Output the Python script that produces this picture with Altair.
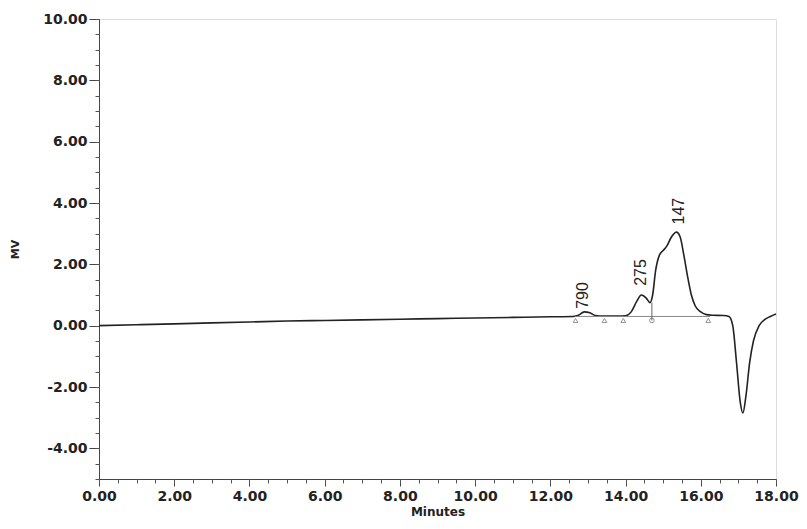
import altair as alt
import pandas as pd

# chromatogram trace (minutes, mV)
times = [0.0, 1.0, 2.0, 3.0, 4.0, 5.0, 6.0, 7.0, 8.0, 9.0, 10.0, 11.0, 12.0, 12.6,
         12.75, 12.9, 13.05, 13.2, 13.4, 13.8, 14.0, 14.15, 14.3, 14.42, 14.55, 14.65,
         14.72, 14.8, 14.9, 15.0, 15.1, 15.2, 15.35, 15.45, 15.55, 15.65, 15.75, 15.85,
         16.0, 16.15, 16.3, 16.6, 16.75, 16.85, 16.95, 17.05, 17.12, 17.2, 17.3, 17.4,
         17.55, 17.7, 17.85, 18.0]
signal = [0.00, 0.03, 0.06, 0.09, 0.12, 0.15, 0.17, 0.19, 0.21, 0.23, 0.25, 0.27, 0.29, 0.30,
          0.34, 0.45, 0.42, 0.33, 0.31, 0.31, 0.32, 0.45, 0.80, 1.00, 0.90, 0.75,
          1.00, 1.80, 2.30, 2.45, 2.60, 2.85, 3.05, 2.90, 2.30, 1.60, 1.00, 0.65,
          0.45, 0.36, 0.34, 0.33, 0.30, 0.00, -1.20, -2.50, -2.85, -2.30, -1.20, -0.50,
          0.00, 0.20, 0.30, 0.38]

# integration markers
tri_t = [12.67, 13.44, 13.94, 16.2]
tri_v = [0.17, 0.17, 0.17, 0.17]
circ_t = [14.7]
circ_v = [0.17]
drop_top = [0.75]

# peak labels
lab_text = ["790", "275", "147"]
lab_t = [12.88, 14.40, 15.42]
lab_v = [0.55, 1.30, 3.30]

base_t0, base_t1, base_v = [12.65], [16.25], [0.30]

# axis ticks
x_major = [0, 2, 4, 6, 8, 10, 12, 14, 16, 18]
y_major = [-4, -2, 0, 2, 4, 6, 8, 10]
x_minor = [i * 0.5 for i in range(0, 37)]
y_minor = [-5 + i * 0.5 for i in range(0, 31)]

trace = pd.DataFrame({"t": times, "v": signal})
tri = pd.DataFrame({"t": tri_t, "v": tri_v})
circ = pd.DataFrame({"t": circ_t, "v": circ_v, "top": drop_top})
labs = pd.DataFrame({"t": lab_t, "v": lab_v, "txt": lab_text})
base = pd.DataFrame({"t0": base_t0, "t1": base_t1, "v": base_v})

font = "DejaVu Sans"
xs = alt.Scale(domain=[0, 18], nice=False)
ys = alt.Scale(domain=[-5, 10], nice=False)
lab_expr = "replace(format(datum.value, '.2f'), '\u2212', '-')"

xaxis = alt.Axis(values=x_major, labelExpr=lab_expr, title="Minutes", orient="bottom",
                 labelFont=font, labelFontSize=14, labelFontWeight="bold", labelColor="#222",
                 titleFont=font, titleFontSize=12, titleFontWeight="bold", titleColor="#222",
                 tickSize=7, tickColor="#444", domainColor="#444", grid=False,
                 labelPadding=3, titlePadding=3, labelFlush=False)
yaxis = alt.Axis(values=y_major, labelExpr=lab_expr, title="MV", orient="left",
                 labelFont=font, labelFontSize=14, labelFontWeight="bold", labelColor="#222",
                 titleFont=font, titleFontSize=11, titleFontWeight="bold", titleColor="#222",
                 tickSize=10, tickColor="#444", domainColor="#444", grid=False,
                 labelPadding=2, titlePadding=22, labelFlush=False)
xminor = alt.Axis(values=x_minor, labels=False, title=None, orient="bottom", tickSize=4,
                  tickColor="#555", domain=False, grid=False)
yminor = alt.Axis(values=y_minor, labels=False, title=None, orient="left", tickSize=4,
                  tickColor="#555", domain=False, grid=False)

line = alt.Chart(trace).mark_line(color="#222", strokeWidth=1.6, interpolate="monotone").encode(
    x=alt.X("t:Q", scale=xs, axis=xaxis),
    y=alt.Y("v:Q", scale=ys, axis=yaxis),
)

minor = alt.Chart(trace).mark_line(opacity=0).encode(
    x=alt.X("t:Q", scale=xs, axis=xminor),
    y=alt.Y("v:Q", scale=ys, axis=yminor),
)

baseline = alt.Chart(base).mark_rule(color="#888", strokeWidth=1).encode(
    x=alt.X("t0:Q", scale=xs, axis=None), x2="t1:Q", y=alt.Y("v:Q", scale=ys, axis=None))

drop = alt.Chart(circ).mark_rule(color="#666", strokeWidth=1).encode(
    x=alt.X("t:Q", scale=xs, axis=None), y=alt.Y("v:Q", scale=ys, axis=None), y2="top:Q")

tris = alt.Chart(tri).mark_point(shape="triangle-up", size=22, color="#666", strokeWidth=1).encode(
    x=alt.X("t:Q", scale=xs, axis=None), y=alt.Y("v:Q", scale=ys, axis=None))

circs = alt.Chart(circ).mark_point(shape="circle", size=22, color="#666", strokeWidth=1).encode(
    x=alt.X("t:Q", scale=xs, axis=None), y=alt.Y("v:Q", scale=ys, axis=None))

texts = alt.Chart(labs).mark_text(angle=270, align="left", baseline="middle", font="Liberation Sans",
                                  fontSize=16, color="#222").encode(
    x=alt.X("t:Q", scale=xs, axis=None), y=alt.Y("v:Q", scale=ys, axis=None), text="txt:N")

chart = alt.layer(line, minor, baseline, drop, tris, circs, texts).resolve_axis(
    x="independent", y="independent"
).properties(
    width=677, height=460,
    padding={"left": 91, "top": 11, "right": 23, "bottom": 41},
    autosize=alt.AutoSizeParams(type="none"),
).configure_view(stroke="#444", strokeWidth=1.2).configure(background="white")

chart.save("out.html", embed_options={"renderer": "svg", "actions": False})
